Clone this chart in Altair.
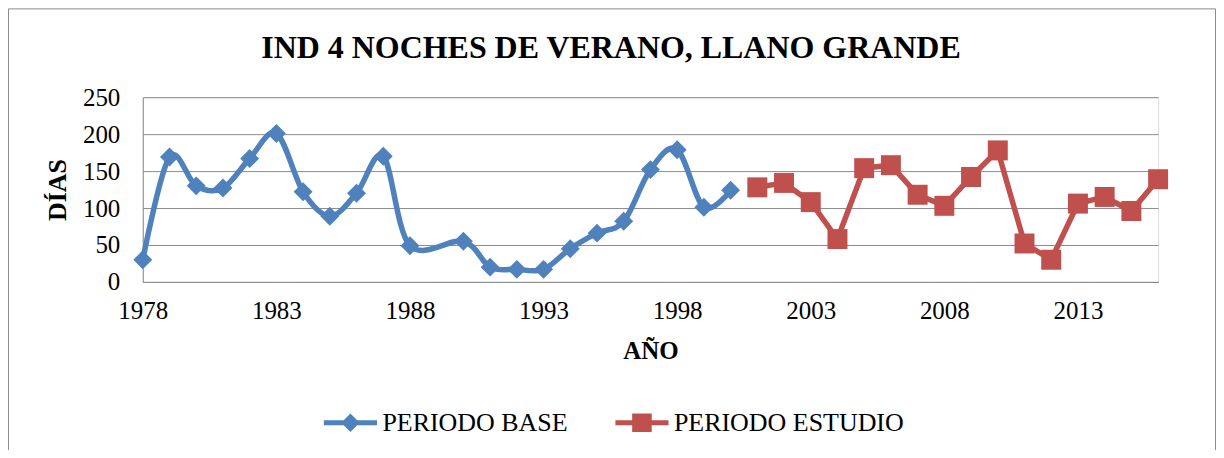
import altair as alt
import pandas as pd

# ---- data ----
years_base = [1978, 1979, 1980, 1981, 1982, 1983, 1984, 1985, 1986, 1987, 1988,
              1990, 1991, 1992, 1993, 1994, 1995, 1996, 1997, 1998, 1999, 2000]
values_base = [30, 169, 130, 127, 167, 201, 122, 89, 120, 170, 49,
               55, 20, 17, 17, 45, 66, 82, 152, 179, 101, 124]

years_study = [2001, 2002, 2003, 2004, 2005, 2006, 2007, 2008,
               2009, 2010, 2011, 2012, 2013, 2014, 2015, 2016]
values_study = [128, 134, 108, 58, 154, 158, 118, 103,
                142, 178, 52, 30, 106, 115, 96, 139]

series_names = ["PERIODO BASE", "PERIODO ESTUDIO"]
series_colors = ["#4F81BD", "#C0504D"]
x_ticks = [1978, 1983, 1988, 1993, 1998, 2003, 2008, 2013]
y_ticks = [0, 50, 100, 150, 200, 250]

FONT = "Liberation Serif"
GRID = "#8C8C8C"

base_df = pd.DataFrame({"year": years_base, "dias": values_base, "serie": series_names[0]})
study_df = pd.DataFrame({"year": years_study, "dias": values_study, "serie": series_names[1]})
legend_df = pd.DataFrame({"year": pd.Series([], dtype=float),
                          "dias": pd.Series([], dtype=float),
                          "serie": pd.Series([], dtype=str)})

W, H = 1017, 185
PAD = {"left": 135, "top": 89, "right": 58, "bottom": 168}

legend_shapes = [
    "M-0.95,-0.09 L0.95,-0.09 L0.95,0.09 L-0.95,0.09 Z M-0.33,0 L0,-0.33 L0.33,0 L0,0.33 Z",
    "M-0.95,-0.09 L0.95,-0.09 L0.95,0.09 L-0.95,0.09 Z M-0.35,-0.33 L0.35,-0.33 L0.35,0.33 L-0.35,0.33 Z",
]

legend = alt.Legend(
    title=None,
    orient="none",
    legendX=180,
    legendY=298,
    direction="horizontal",
    padding=0,
    labelFont=FONT,
    labelFontSize=26,
    labelColor="black",
    labelLimit=500,
    labelOffset=4,
    columnPadding=46,
    symbolSize=3136,
    symbolStrokeWidth=0,
    symbolOpacity=1,
)

color = alt.Color(
    "serie:N",
    scale=alt.Scale(domain=series_names, range=series_colors),
    legend=legend,
)
shape = alt.Shape(
    "serie:N",
    scale=alt.Scale(domain=series_names, range=legend_shapes),
    legend=legend,
)

x = alt.X(
    "year:Q",
    scale=alt.Scale(domain=[1978, 2016], nice=False, zero=False),
    axis=alt.Axis(
        values=x_ticks, format="d", grid=False, ticks=False,
        domainColor=GRID, labelFont=FONT, labelFontSize=25, labelColor="black",
        labelPadding=17, labelFlush=False,
        title="AÑO", titleFont=FONT, titleFontSize=25, titleFontWeight="bold",
        titleColor="black", titlePadding=15,
    ),
)
y = alt.Y(
    "dias:Q",
    scale=alt.Scale(domain=[0, 250], nice=False),
    axis=alt.Axis(
        values=y_ticks, grid=True, gridColor=GRID, ticks=False,
        domainColor=GRID, labelFont=FONT, labelFontSize=25, labelColor="black",
        labelPadding=23,
        title="DÍAS", titleFont=FONT, titleFontSize=26, titleFontWeight="bold",
        titleColor="black", titlePadding=12,
    ),
)

base_line = alt.Chart(base_df).mark_line(
    strokeWidth=5.5, interpolate="cardinal", tension=0
).encode(x=x, y=y, color=color)
base_pts = alt.Chart(base_df).mark_point(
    shape="diamond", size=360, filled=True, opacity=1
).encode(x=x, y=y, color=color)

study_line = alt.Chart(study_df).mark_line(strokeWidth=5.5).encode(x=x, y=y, color=color)
study_pts = alt.Chart(study_df).mark_point(
    shape="square", size=400, filled=True, opacity=1
).encode(x=x, y=y, color=color)

legend_layer = alt.Chart(legend_df).mark_point(
    filled=True, size=3136, opacity=1
).encode(x=x, y=y, color=color, shape=shape)

frame = alt.Chart(pd.DataFrame({"f": [0]})).mark_rect(
    filled=False, stroke=GRID, strokeWidth=1
).encode(
    x=alt.value(-134.5), x2=alt.value(W + 57.5),
    y=alt.value(-88.5), y2=alt.value(H + 200),
)

chart = alt.layer(frame, base_line, base_pts, study_line, study_pts, legend_layer).properties(
    width=W, height=H,
    padding=PAD,
    autosize=alt.AutoSizeParams(type="none"),
    title=alt.TitleParams(
        "IND 4 NOCHES DE VERANO, LLANO GRANDE",
        font=FONT, fontSize=32, fontWeight="bold", color="black",
        anchor="middle", dx=-39.5, offset=-81.5, baseline="alphabetic",
    ),
).configure_view(stroke=None).configure(background="white")

chart.save("out.html", embed_options={"renderer": "svg", "actions": False})
